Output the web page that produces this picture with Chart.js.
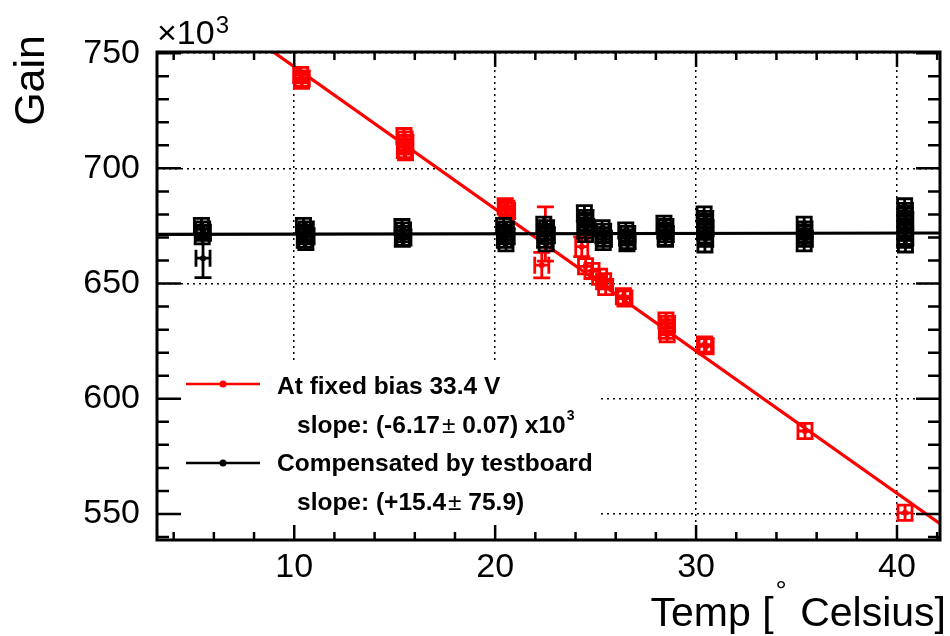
<!DOCTYPE html>
<html>
<head>
<meta charset="utf-8">
<title>Gain vs temperature</title>
<script src="https://cdn.jsdelivr.net/npm/chart.js@4.4.1/dist/chart.umd.min.js"></script>
<style>
  html, body { margin: 0; padding: 0; background: #fff; }
  canvas { display: block; }
</style>
</head>
<body>
<canvas id="c" width="950" height="636"></canvas>
<script>
// Gain (in units of 10^3) of one channel versus temperature, two operating modes.

// --- Fixed bias 33.4 V (red) ---
const FIXED_T  = [10.32, 10.40, 10.36,
                  15.46, 15.52, 15.56, 15.50, 15.48, 15.54,
                  20.50, 20.58, 20.62,
                  22.32, 22.50, 24.31,
                  24.50, 24.82, 25.20, 25.40, 25.50,
                  26.38, 26.46,
                  28.50, 28.58, 28.54, 28.52, 28.56,
                  30.42, 30.50,
                  35.42, 40.40];
const FIXED_G  = [740.5, 739.0, 738.0,
                  714.0, 712.5, 711.0, 709.5, 708.0, 707.0,
                  683.5, 682.5, 681.5,
                  658.0, 671.5, 666.0,
                  657.5, 655.5, 653.0, 651.0, 648.5,
                  644.5, 643.5,
                  634.0, 632.5, 631.0, 629.5, 628.0,
                  623.5, 622.8,
                  586.0, 550.5];
const FIXED_ET = [0.35, 0.35, 0.35,
                  0.35, 0.35, 0.35, 0.35, 0.35, 0.35,
                  0.35, 0.35, 0.35,
                  0.35, 0.35, 0.30,
                  0.35, 0.35, 0.35, 0.35, 0.35,
                  0.35, 0.35,
                  0.35, 0.35, 0.35, 0.35, 0.35,
                  0.35, 0.35,
                  0.35, 0.35];
const FIXED_EG = [3.3, 3.3, 3.3,
                  3.3, 3.3, 3.3, 3.3, 3.3, 3.3,
                  3.3, 3.3, 3.3,
                  5.5, 11.8, 4.3,
                  3.3, 3.3, 3.3, 3.3, 3.3,
                  3.3, 3.3,
                  3.3, 3.3, 3.3, 3.3, 3.3,
                  3.3, 3.3,
                  3.3, 3.3];

// --- Bias compensated by the test board (black) ---
const COMP_T  = [5.46,
                 5.38, 5.44, 5.48, 5.42,
                 10.46, 10.60, 10.52, 10.64, 10.50, 10.58,
                 15.36, 15.44, 15.40, 15.46, 15.38,
                 20.42, 20.56, 20.48, 20.60, 20.46, 20.54,
                 22.42, 22.56, 22.48, 22.60, 22.46, 22.54,
                 24.44, 24.52, 24.48, 24.56, 24.46, 24.50,
                 25.32, 25.40, 25.36, 25.44, 25.38,
                 26.50, 26.60, 26.54, 26.62, 26.56,
                 28.40, 28.50, 28.44, 28.52, 28.46, 28.48,
                 30.40, 30.48, 30.44, 30.50, 30.42, 30.46, 30.48, 30.44,
                 35.38, 35.42, 35.40, 35.44, 35.38,
                 40.38, 40.42, 40.40, 40.44, 40.38, 40.42, 40.40, 40.44, 40.38, 40.42];
const COMP_G  = [661.0,
                 675.0, 673.5, 672.0, 670.5,
                 675.0, 673.5, 672.0, 670.5, 669.0, 668.0,
                 674.5, 673.0, 671.5, 670.0, 669.5,
                 675.0, 673.5, 672.0, 670.5, 669.0, 667.5,
                 675.5, 674.0, 672.5, 671.0, 669.0, 667.5,
                 680.5, 678.5, 676.5, 674.5, 673.0, 671.5,
                 674.0, 672.5, 671.0, 669.5, 668.0,
                 673.0, 671.5, 670.0, 668.5, 667.5,
                 676.0, 674.5, 673.0, 671.5, 670.0, 669.5,
                 680.0, 678.0, 676.0, 674.0, 672.5, 671.0, 669.5, 667.0,
                 675.5, 673.5, 671.5, 669.5, 667.5,
                 683.5, 681.5, 679.5, 677.5, 676.0, 674.0, 672.0, 670.0, 669.0, 667.0];
const COMP_ET = [0.35,
                 0.35, 0.35, 0.35, 0.35,
                 0.35, 0.35, 0.35, 0.35, 0.35, 0.35,
                 0.35, 0.35, 0.35, 0.35, 0.35,
                 0.35, 0.35, 0.35, 0.35, 0.35, 0.35,
                 0.35, 0.35, 0.35, 0.35, 0.35, 0.35,
                 0.35, 0.35, 0.35, 0.35, 0.35, 0.35,
                 0.35, 0.35, 0.35, 0.35, 0.35,
                 0.35, 0.35, 0.35, 0.35, 0.35,
                 0.35, 0.35, 0.35, 0.35, 0.35, 0.35,
                 0.35, 0.35, 0.35, 0.35, 0.35, 0.35, 0.35, 0.35,
                 0.35, 0.35, 0.35, 0.35, 0.35,
                 0.35, 0.35, 0.35, 0.35, 0.35, 0.35, 0.35, 0.35, 0.35, 0.35];
const COMP_EG = [8.4,
                 3.3, 3.3, 3.3, 3.3,
                 3.3, 3.3, 3.3, 3.3, 3.3, 3.3,
                 3.3, 3.3, 3.3, 3.3, 3.3,
                 3.3, 3.3, 3.3, 3.3, 3.3, 3.3,
                 3.3, 3.3, 3.3, 3.3, 3.3, 3.3,
                 3.3, 3.3, 3.3, 3.3, 3.3, 3.3,
                 3.3, 3.3, 3.3, 3.3, 3.3,
                 3.3, 3.3, 3.3, 3.3, 3.3,
                 3.3, 3.3, 3.3, 3.3, 3.3, 3.3,
                 3.3, 3.3, 3.3, 3.3, 3.3, 3.3, 3.3, 3.3,
                 3.3, 3.3, 3.3, 3.3, 3.3,
                 3.3, 3.3, 3.3, 3.3, 3.3, 3.3, 3.3, 3.3, 3.3, 3.3];

// Straight-line fits (gain in 10^3 per degree)
const FIXED_SLOPE = -6.17;
const FIXED_INTERCEPT = 805.8;
const COMP_SLOPE = 0.0154;
const COMP_INTERCEPT = 671.3;

// Axes
const X_MIN = 3.17, X_MAX = 42.14;
const Y_MIN = 538.7, Y_MAX = 750.5;
const X_TICKS = [10, 20, 30, 40];
const Y_TICKS = [550, 600, 650, 700, 750];
const X_MINOR_STEP = 2;
const Y_MINOR_STEP = 10;

const X_TITLE = ['Temp [', '\u00b0', ' Celsius]'];
const Y_TITLE = 'Gain';
const Y_EXPONENT = ['\u00d710', '3'];

// Legend
const LEGEND_LABELS = ['At fixed bias 33.4 V', 'Compensated by testboard'];
const LEGEND_SLOPES = [['slope: (-6.17', '\u00b1', ' 0.07) x10', '3'],
                       ['slope: (+15.4', '\u00b1', ' 75.9)', '']];

const RED = '#ff0000';
const BLACK = '#000000';
const FONT = '"Liberation Sans", Arial, Helvetica, sans-serif';

function points(ts, gs) { return ts.map((t, i) => ({ x: t, y: gs[i] })); }
function fitLine(slope, intercept) {
  return [X_MIN, X_MAX].map(t => ({ x: t, y: intercept + slope * t }));
}
function minorValues(lo, hi, step) {
  const out = [];
  for (let v = Math.ceil(lo / step) * step; v <= hi + 1e-9; v += step) out.push(v);
  return out;
}

// Error bars with end caps, drawn just before each point dataset.
const errorBars = {
  id: 'errorBars',
  beforeDatasetDraw(chart, args) {
    const ds = chart.data.datasets[args.index];
    if (!ds.errX) return;
    const { ctx, chartArea: a, scales: { x, y } } = chart;
    const cap = 8.5;
    ctx.save();
    ctx.beginPath();
    ctx.rect(a.left, a.top, a.right - a.left, a.bottom - a.top);
    ctx.clip();
    ctx.strokeStyle = ds.backgroundColor;
    ctx.lineWidth = 2.8;
    ds.data.forEach((p, i) => {
      const px = x.getPixelForValue(p.x), py = y.getPixelForValue(p.y);
      const xl = x.getPixelForValue(p.x - ds.errX[i]);
      const xr = x.getPixelForValue(p.x + ds.errX[i]);
      const yt = y.getPixelForValue(p.y + ds.errY[i]);
      const yb = y.getPixelForValue(p.y - ds.errY[i]);
      ctx.beginPath();
      ctx.moveTo(px, yt); ctx.lineTo(px, yb);
      ctx.moveTo(px - cap, yt); ctx.lineTo(px + cap, yt);
      ctx.moveTo(px - cap, yb); ctx.lineTo(px + cap, yb);
      ctx.moveTo(xl, py); ctx.lineTo(xr, py);
      ctx.moveTo(xl, py - cap); ctx.lineTo(xl, py + cap);
      ctx.moveTo(xr, py - cap); ctx.lineTo(xr, py + cap);
      ctx.stroke();
    });
    ctx.restore();
  }
};

// Legend panel (white box over the grid, inside the frame)
const legendBox = {
  id: 'legendBox',
  beforeDatasetsDraw(chart) {
    const { ctx, chartArea: a } = chart;
    ctx.save();
    ctx.fillStyle = '#fff';
    ctx.fillRect(a.left, 364, 597 - a.left, 532 - 364);

    const colors = [RED, BLACK];
    const sampleY = [384, 463];
    const labelBase = [393.5, 471];
    const slopeBase = [432.5, 509.5];
    const bold = '24.5px ' + FONT;
    colors.forEach((col, k) => {
      ctx.strokeStyle = col;
      ctx.lineWidth = 2.5;
      ctx.beginPath();
      ctx.moveTo(186, sampleY[k]);
      ctx.lineTo(260, sampleY[k]);
      ctx.stroke();
      ctx.fillStyle = col;
      ctx.beginPath();
      ctx.arc(223, sampleY[k], 3.5, 0, Math.PI * 2);
      ctx.fill();

      ctx.fillStyle = '#000';
      ctx.textBaseline = 'alphabetic';
      ctx.textAlign = 'left';
      ctx.font = 'bold ' + bold;
      ctx.fillText(LEGEND_LABELS[k], 277, labelBase[k]);

      const parts = LEGEND_SLOPES[k];
      let cx = 297;
      ctx.font = 'bold ' + bold;
      ctx.fillText(parts[0], cx, slopeBase[k]);
      cx += ctx.measureText(parts[0]).width + 2;
      ctx.font = bold;
      ctx.fillText(parts[1], cx, slopeBase[k]);
      cx += ctx.measureText(parts[1]).width;
      ctx.font = 'bold ' + bold;
      ctx.fillText(parts[2], cx, slopeBase[k]);
      cx += ctx.measureText(parts[2]).width + 1;
      if (parts[3]) {
        ctx.font = 'bold 14px ' + FONT;
        ctx.fillText(parts[3], cx, slopeBase[k] - 13);
      }
    });
    ctx.restore();
  }
};

// Frame with inward ticks on all four sides
const frame = {
  id: 'frame',
  afterDatasetsDraw(chart) {
    const { ctx, chartArea: a, scales: { x, y } } = chart;
    ctx.save();
    ctx.strokeStyle = '#000';
    ctx.lineWidth = 2.5;
    ctx.beginPath();
    minorValues(X_MIN, X_MAX, X_MINOR_STEP).forEach(v => {
      const major = X_TICKS.includes(v);
      const len = major ? 15 : 8;
      const px = x.getPixelForValue(v);
      ctx.moveTo(px, a.bottom); ctx.lineTo(px, a.bottom - len);
      ctx.moveTo(px, a.top); ctx.lineTo(px, a.top + len);
    });
    minorValues(Y_MIN, Y_MAX, Y_MINOR_STEP).forEach(v => {
      const major = Y_TICKS.includes(v);
      const len = major ? 24 : 12;
      const py = y.getPixelForValue(v);
      ctx.moveTo(a.left, py); ctx.lineTo(a.left + len, py);
      ctx.moveTo(a.right, py); ctx.lineTo(a.right - len, py);
    });
    ctx.stroke();
    ctx.lineWidth = 3;
    ctx.strokeRect(a.left, a.top, a.right - a.left, a.bottom - a.top);
    ctx.restore();
  }
};

// Axis titles and the 10^3 multiplier
const titles = {
  id: 'titles',
  afterDraw(chart) {
    const { ctx, chartArea: a } = chart;
    ctx.save();
    ctx.fillStyle = '#000';
    ctx.textBaseline = 'alphabetic';

    // x10^3 above the y axis
    ctx.textAlign = 'left';
    ctx.font = '34px ' + FONT;
    ctx.fillText(Y_EXPONENT[0], a.left, 44);
    const w = ctx.measureText(Y_EXPONENT[0]).width;
    ctx.font = '24px ' + FONT;
    ctx.fillText(Y_EXPONENT[1], a.left + w + 1, 33);

    // y title, rotated, ending at the top
    ctx.save();
    ctx.translate(44, 35);
    ctx.rotate(-Math.PI / 2);
    ctx.textAlign = 'right';
    ctx.font = '43px ' + FONT;
    ctx.fillText(Y_TITLE, 0, 0);
    ctx.restore();

    // x title, right aligned, with a raised degree ring
    const big = '41px ' + FONT, small = '28px ' + FONT;
    ctx.font = big;
    const w0 = ctx.measureText(X_TITLE[0]).width;
    const w2 = ctx.measureText(X_TITLE[2]).width;
    ctx.font = small;
    const w1 = ctx.measureText(X_TITLE[1]).width;
    const right = 946, base = 626;
    let sx = right - w2 - w1 - 4 - w0;
    ctx.textAlign = 'left';
    ctx.font = big;
    ctx.fillText(X_TITLE[0], sx, base);
    sx += w0 + 2;
    ctx.font = small;
    ctx.fillText(X_TITLE[1], sx, base - 26);
    sx += w1 + 2;
    ctx.font = big;
    ctx.fillText(X_TITLE[2], sx, base);
    ctx.restore();
  }
};

new Chart(document.getElementById('c'), {
  type: 'scatter',
  data: {
    datasets: [
      {
        label: LEGEND_LABELS[1],
        data: points(COMP_T, COMP_G),
        errX: COMP_ET, errY: COMP_EG,
        backgroundColor: BLACK, borderColor: BLACK,
        pointRadius: 3, pointBorderWidth: 0,
        order: 0
      },
      {
        type: 'line',
        label: 'compensated fit',
        data: fitLine(COMP_SLOPE, COMP_INTERCEPT),
        borderColor: BLACK, borderWidth: 3.2,
        pointRadius: 0, showLine: true, fill: false,
        clip: 0, order: 1
      },
      {
        label: LEGEND_LABELS[0],
        data: points(FIXED_T, FIXED_G),
        errX: FIXED_ET, errY: FIXED_EG,
        backgroundColor: RED, borderColor: RED,
        pointRadius: 3, pointBorderWidth: 0,
        order: 2
      },
      {
        type: 'line',
        label: 'fixed-bias fit',
        data: fitLine(FIXED_SLOPE, FIXED_INTERCEPT),
        borderColor: RED, borderWidth: 3.2,
        pointRadius: 0, showLine: true, fill: false,
        clip: 0, order: 3
      }
    ]
  },
  options: {
    responsive: false,
    animation: false,
    devicePixelRatio: 1,
    events: [],
    layout: { padding: { left: 0, right: 10, top: 52, bottom: 0 } },
    plugins: { legend: { display: false }, tooltip: { enabled: false } },
    scales: {
      x: {
        type: 'linear', min: X_MIN, max: X_MAX,
        afterBuildTicks: s => { s.ticks = X_TICKS.map(v => ({ value: v })); },
        afterFit: s => { s.height = 96; },
        grid: { color: '#000', lineWidth: 1.5, drawTicks: false },
        border: { display: false, dash: [2, 4] },
        ticks: {
          color: '#000', padding: 7, maxRotation: 0, autoSkip: false,
          font: { family: FONT, size: 34 },
          callback: v => String(v)
        }
      },
      y: {
        type: 'linear', min: Y_MIN, max: Y_MAX,
        afterBuildTicks: s => { s.ticks = Y_TICKS.map(v => ({ value: v })); },
        afterFit: s => { s.width = 157; },
        grid: { color: '#000', lineWidth: 1.5, drawTicks: false },
        border: { display: false, dash: [2, 4] },
        ticks: {
          color: '#000', padding: 17, autoSkip: false,
          font: { family: FONT, size: 34 },
          callback: v => String(v)
        }
      }
    }
  },
  plugins: [errorBars, legendBox, frame, titles]
});
</script>
</body>
</html>
